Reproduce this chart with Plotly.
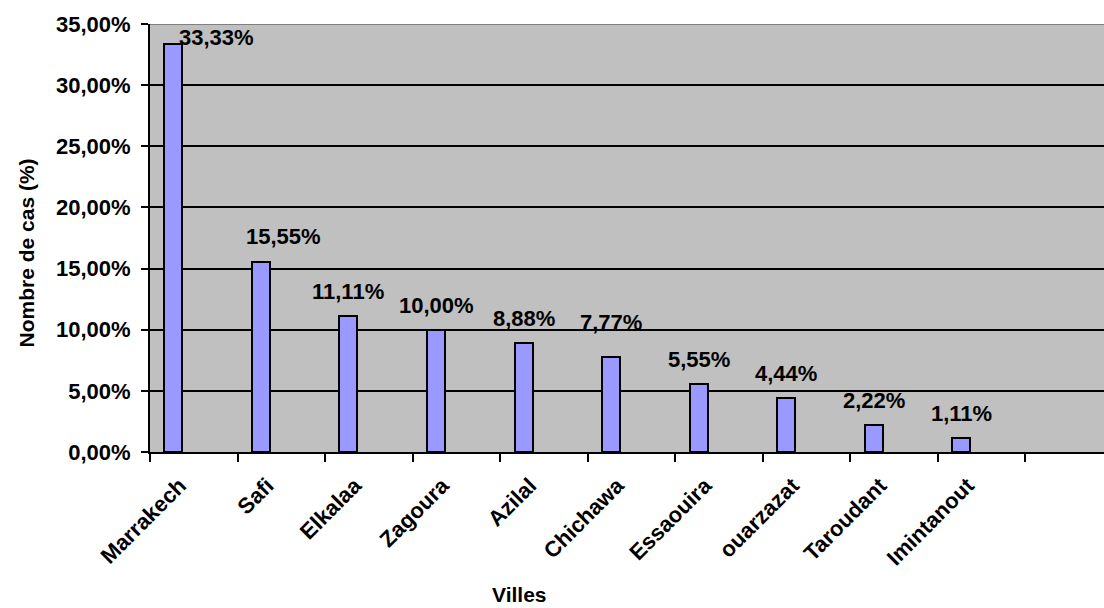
import plotly.graph_objects as go

# ---- data ----
villes = ["Marrakech", "Safi", "Elkalaa", "Zagoura", "Azilal", "Chichawa",
          "Essaouira", "ouarzazat", "Taroudant", "Imintanout", ""]
pourcentages = [33.33, 15.55, 11.11, 10.00, 8.88, 7.77, 5.55, 4.44, 2.22, 1.11, None]
y_ticks = [0, 5, 10, 15, 20, 25, 30, 35]
y_tick_labels = [f"{t:.2f}%".replace(".", ",") for t in y_ticks]

# ---- style ----
FONT = "Liberation Sans, Arial, sans-serif"
FS = 22
BAR_FILL = "#9999FF"
PLOT_BG = "#C0C0C0"
# per-label nudges (px) for the data labels: (dx, distance of label centre above bar top)
LABEL_NUDGE = {"Marrakech": (43, 7), "Safi": (23, 25), "Chichawa": (0, 34)}
DEFAULT_UP = 24.5

fig = go.Figure()
fig.add_trace(go.Bar(
    x=villes, y=pourcentages,
    width=0.206, offset=-0.336,
    marker=dict(color=BAR_FILL, line=dict(color="black", width=2)),
    hoverinfo="skip",
))

annotations = []
for v, p in zip(villes, pourcentages):
    if p is None:
        continue
    dx, up = LABEL_NUDGE.get(v, (0, DEFAULT_UP))
    annotations.append(dict(
        x=v, y=p, xref="x", yref="y",
        text=f"{p:.2f}%".replace(".", ","),
        showarrow=False, xanchor="center", yanchor="middle",
        xshift=-20.4 + dx, yshift=up,
        font=dict(family=FONT, size=FS, color="black", weight="bold"),
    ))

# axis titles
annotations.append(dict(
    text="Nombre de cas (%)", xref="paper", yref="paper",
    x=(25.5 - 150) / 954, y=(452 - 253) / 428, textangle=-90,
    showarrow=False, xanchor="center", yanchor="middle",
    font=dict(family=FONT, size=21, color="black", weight="bold"),
))
annotations.append(dict(
    text="Villes", xref="paper", yref="paper",
    x=(519 - 150) / 954, y=(452 - 594) / 428,
    showarrow=False, xanchor="center", yanchor="middle",
    font=dict(family=FONT, size=21, color="black", weight="bold"),
))

fig.update_layout(
    width=1104, height=608,
    margin=dict(l=150, r=0, t=24, b=156),
    paper_bgcolor="white", plot_bgcolor=PLOT_BG,
    showlegend=False,
    bargap=0,
    annotations=annotations,
    shapes=[dict(type="line", xref="paper", yref="y", x0=0, x1=1, y0=35, y1=35,
                 line=dict(color="#808080", width=2), layer="above")],
)
fig.update_xaxes(
    type="category",
    range=[-0.5, 10.5 - (1113 - 1104) / 87.5],
    tickson="boundaries", ticks="outside", ticklen=8, tickwidth=2, tickcolor="black",
    showline=True, linecolor="black", linewidth=2,
    showgrid=False, tickangle=-45,
    tickfont=dict(family=FONT, size=FS, color="black", weight="bold"),
    ticklabelstandoff=10, ticklabelshift=-14,
)
fig.update_yaxes(
    range=[0, 35], tickvals=y_ticks, ticktext=y_tick_labels,
    ticks="outside", ticklen=7, tickwidth=2, tickcolor="black",
    showline=True, linecolor="black", linewidth=2,
    showgrid=True, gridcolor="black", gridwidth=2, zeroline=False,
    tickfont=dict(family=FONT, size=FS, color="black", weight="bold"),
    ticklabelstandoff=6,
)

fig.write_html("out.html")
